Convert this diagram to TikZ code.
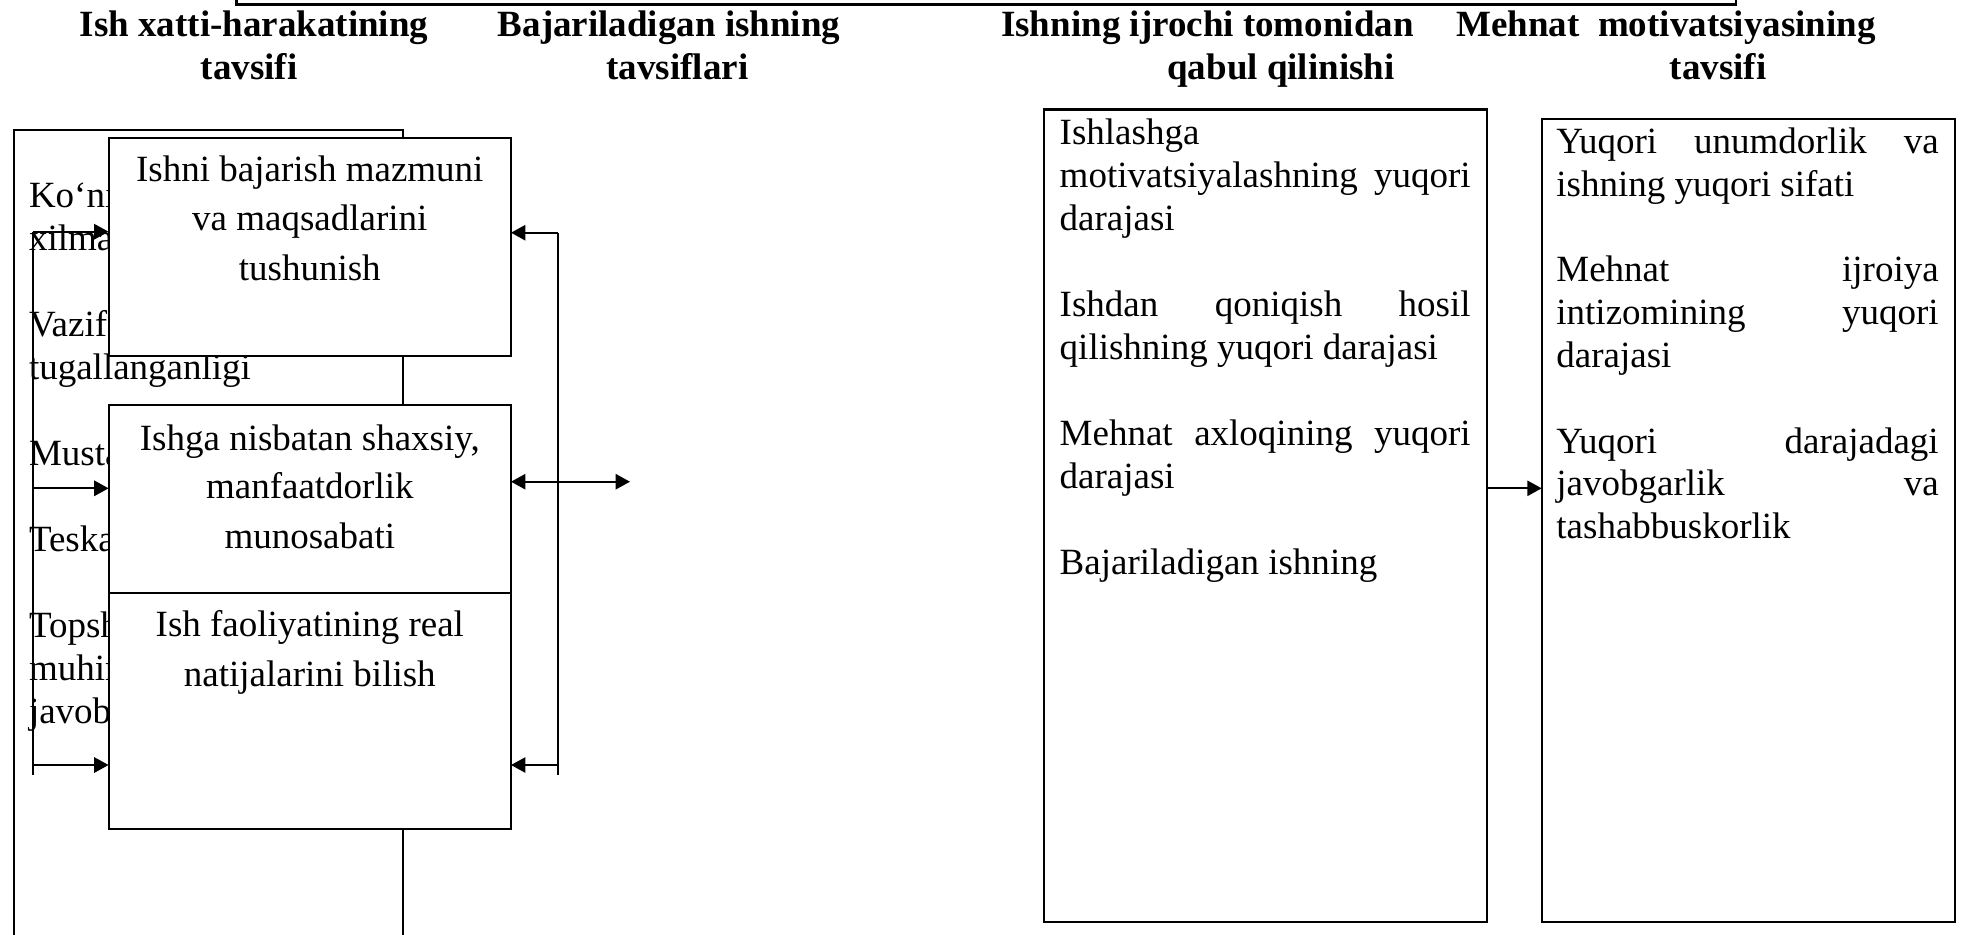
\documentclass[tikz,border=0pt]{standalone}
\usepackage{fontspec}
\setmainfont{Liberation Serif}
\usetikzlibrary{arrows.meta,fit}
\begin{document}
\begin{tikzpicture}[x=0.5pt,y=-0.5pt,
  outline/.style={draw=black,line width=0.9pt,inner sep=0pt,outer sep=0pt},
  panel/.style={outline,fill=white},
  card/.style={draw=black,fill=white,line width=1.1pt,inner sep=0pt,outer sep=0pt},
  head/.style={font=\bfseries\fontsize{18.5}{21.5}\selectfont,anchor=base,inner sep=0pt},
  ltxt/.style={font=\fontsize{18.5}{21.5}\selectfont,anchor=base west,inner sep=0pt},
  ctxt/.style={font=\fontsize{18.5}{21.5}\selectfont,anchor=base,inner sep=0pt},
  wire/.style={line width=1pt},
  tip/.tip={Triangle[length=7.2pt,width=7.6pt]},
  link/.style={line width=1.1pt,-tip},
  twoway/.style={line width=1.1pt,tip-tip}
]
\useasboundingbox (0,0) rectangle (1964,934);
\clip (0,0) rectangle (1964,934);

% corners of the frames
\coordinate (topNW) at (236.7,-40);   \coordinate (topSE) at (1736,4.5);
\coordinate (outNW) at (13.9,130);    \coordinate (outSE) at (402.8,990);
\coordinate (b1NW) at (108.6,137.7);  \coordinate (b1SE) at (511,356);
\coordinate (b2NW) at (108.6,404.7);  \coordinate (b2SE) at (511,593.3);
\coordinate (b3NW) at (108.6,593.3);  \coordinate (b3SE) at (511,829.3);
\coordinate (aNW) at (1044,109.5);    \coordinate (aSE) at (1486.7,921.7);
\coordinate (bNW) at (1541.7,119);    \coordinate (bSE) at (1955,921.7);

% title frame running off the top edge
\node[card,line width=1.3pt,fit=(topNW)(topSE)] (title) {};

% column headings
\node[head] (h1a) at (254,36) {Ish xatti-harakatining};
\node[head] (h1b) at (249,79) {tavsifi};
\node[head] (h2a) at (669,36) {Bajariladigan ishning};
\node[head] (h2b) at (677.5,79) {tavsiflari};
\node[head] (h3a) at (1207.5,36) {Ishning ijrochi tomonidan};
\node[head] (h3b) at (1281,79) {qabul qilinishi};
\node[head] (h4a) at (1666,36) {Mehnat\ \ motivatsiyasining};
\node[head] (h4b) at (1718,79) {tavsifi};

% back panel with its list, partly covered by the front boxes
\node[outline,fit=(outNW)(outSE)] (outer) {};
\node[ltxt] (o1) at (28.6,207) {Ko‘nik};
\node[ltxt] (o2) at (28.6,250) {xilma-};
\node[ltxt] (o3) at (28.6,336) {Vazifa};
\node[ltxt] (o4) at (28.6,379) {tugallanganligi};
\node[ltxt] (o5) at (28.6,465) {Mustaq};
\node[ltxt] (o6) at (28.6,551) {Teskar};
\node[ltxt] (o7) at (28.6,637) {Topshi};
\node[ltxt] (o8) at (28.6,680) {muhim};
\node[ltxt] (o9) at (28.6,723) {javobg};

% front boxes
\node[panel,fit=(b1NW)(b1SE)] (box1) {};
\node[panel,fit=(b2NW)(b2SE)] (box2) {};
\node[panel,fit=(b3NW)(b3SE)] (box3) {};

\node[ctxt] (t1a) at (309.8,181.7) {Ishni bajarish mazmuni};
\node[ctxt] (t1b) at (309.8,230.7) {va maqsadlarini};
\node[ctxt] (t1c) at (309.8,280) {tushunish};
\node[ctxt] (t2a) at (309.8,450) {Ishga nisbatan shaxsiy,};
\node[ctxt] (t2b) at (309.8,498.3) {manfaatdorlik};
\node[ctxt] (t2c) at (309.8,548.3) {munosabati};
\node[ctxt] (t3a) at (309.8,636.7) {Ish faoliyatining real};
\node[ctxt] (t3b) at (309.8,686.7) {natijalarini bilish};

% right-hand boxes
\node[card,fit=(aNW)(aSE)] (boxA) {};
\node[card,fit=(bNW)(bSE)] (boxB) {};

\node[ltxt] (a1) at (1059.3,144.5) {Ishlashga};
\node[ltxt] (a2) at (1059.3,187.5) {\makebox[205.5pt][s]{motivatsiyalashning yuqori}};
\node[ltxt] (a3) at (1059.3,230.5) {darajasi};
\node[ltxt] (a4) at (1059.3,316.5) {\makebox[205.5pt][s]{Ishdan qoniqish hosil}};
\node[ltxt] (a5) at (1059.3,359.5) {qilishning yuqori darajasi};
\node[ltxt] (a6) at (1059.3,445.5) {\makebox[205.5pt][s]{Mehnat axloqining yuqori}};
\node[ltxt] (a7) at (1059.3,488.5) {darajasi};
\node[ltxt] (a8) at (1059.3,574.5) {Bajariladigan ishning};

\node[ltxt] (m1) at (1556,153.3) {\makebox[191.15pt][s]{Yuqori unumdorlik va}};
\node[ltxt] (m2) at (1556,196.1) {ishning yuqori sifati};
\node[ltxt] (m3) at (1556,281.7) {\makebox[191.15pt][s]{Mehnat ijroiya}};
\node[ltxt] (m4) at (1556,324.5) {\makebox[191.15pt][s]{intizomining yuqori}};
\node[ltxt] (m5) at (1556,367.3) {darajasi};
\node[ltxt] (m6) at (1556,453) {\makebox[191.15pt][s]{Yuqori darajadagi}};
\node[ltxt] (m7) at (1556,495.8) {\makebox[191.15pt][s]{javobgarlik va}};
\node[ltxt] (m8) at (1556,538.6) {tashabbuskorlik};

% left feedback bus
\coordinate (lbTop) at (32.8,231.7);
\coordinate (lbMid) at (32.8,488.3);
\coordinate (lbLow) at (32.8,765);
\coordinate (lbEnd) at (32.8,775);
\draw[wire] (lbTop) -- (lbEnd);
\draw[link] (lbTop) -- (lbTop -| box1.west);
\draw[link] (lbMid) -- (lbMid -| box2.west);
\draw[link] (lbLow) -- (lbLow -| box3.west);

% right feedback bus
\coordinate (rbTop) at (557.7,232.7);
\coordinate (rbLow) at (557.7,765);
\coordinate (rbEnd) at (557.7,775);
\draw[wire] (rbTop) -- (rbEnd);
\draw[link] (rbTop) -- (rbTop -| box1.east);
\draw[link] (rbLow) -- (rbLow -| box3.east);

% two-way link out of the middle box
\coordinate (dEnd) at (630,481.7);
\draw[twoway] (box2.east |- dEnd) -- (dEnd);

% link between the right-hand boxes
\coordinate (abRow) at (1500,488.3);
\draw[link] (boxA.east |- abRow) -- (boxB.west |- abRow);
\end{tikzpicture}
\end{document}
